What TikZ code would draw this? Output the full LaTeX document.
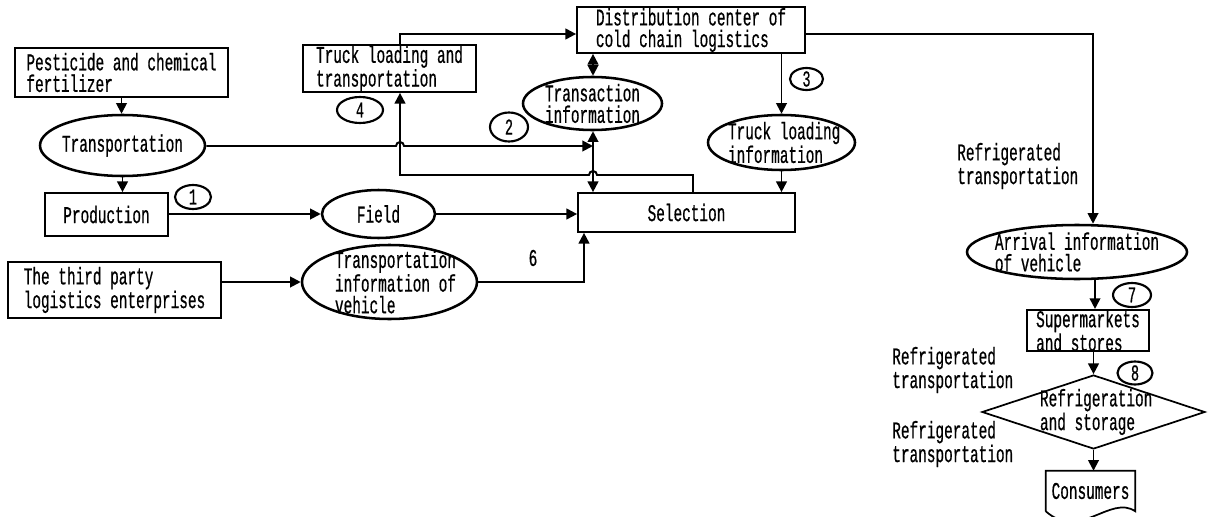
\documentclass[tikz,border=0pt]{standalone}
\usepackage{fontspec}
\setmainfont{Liberation Mono}[FakeStretch=0.6,FakeBold=0.6]
\usetikzlibrary{arrows.meta,shapes.geometric}
\tikzset{
  box/.style={draw, line width=1.3pt, rectangle, inner sep=0pt, align=left},
  oval/.style={draw, line width=1.9pt, ellipse, inner sep=0pt},
  num/.style={draw, line width=1.6pt, ellipse, inner sep=0pt, font=\fontsize{17}{17}\selectfont},
  txt/.style={inner sep=0pt, align=left},
  arr/.style={line width=1.45pt, -{Triangle[length=8pt,width=8pt]}},
  arrs/.style={line width=1.45pt, {Triangle[length=8pt,width=8pt]}-{Triangle[length=8pt,width=8pt]}},
}
\begin{document}
\begin{tikzpicture}[x=0.75pt,y=0.75pt,yscale=-1,xscale=1,font=\fontsize{18}{16.2}\selectfont]
\useasboundingbox (0,0) rectangle (1209,517);
\clip (0,0) rectangle (1209,517);
%Shape: Rectangle [id:pest]
\node[box, minimum width=159.75pt, minimum height=36.75pt] (pest) at (121.5,72.5) {Pesticide and chemical\\fertilizer};
%Shape: Ellipse [id:trans]
\node[oval, minimum width=123.75pt, minimum height=45.75pt, label={center:Transportation}] (trans) at (122.5,145.5) {};
%Shape: Rectangle [id:prod]
\node[box, minimum width=92.25pt, minimum height=32.25pt] (prod) at (106.5,214.5) {Production};
%Shape: Ellipse [id:field]
\node[oval, minimum width=84.75pt, minimum height=36pt, label={center:Field}] (field) at (378.5,214) {};
%Shape: Rectangle [id:third]
\node[box, minimum width=159.75pt, minimum height=42pt] (third) at (114.5,290) {The third party\\logistics enterprises};
%Shape: Ellipse [id:tinfo]
\node[oval, minimum width=131.25pt, minimum height=55.5pt, label={[align=left,xshift=4.5pt]center:{Transportation\\information of\\vehicle}}] (tinfo) at (389.5,282) {};
%Shape: Rectangle [id:truck]
\node[box, minimum width=129.75pt, minimum height=35.25pt] (truck) at (389.5,68.5) {Truck loading and\\transportation};
%Shape: Rectangle [id:dist]
\node[box, minimum width=171pt, minimum height=34.5pt] (dist) at (691,30) {Distribution center of\\cold chain logistics};
%Shape: Ellipse [id:tract]
\node[oval, minimum width=104.25pt, minimum height=39.75pt, label={[align=left]center:{Transaction\\information}}] (tract) at (592.5,103.5) {};
%Shape: Ellipse [id:tkinfo]
\node[oval, minimum width=110.25pt, minimum height=41.25pt, label={[align=left,xshift=2pt]center:{Truck loading\\information}}] (tkinfo) at (781.5,142.5) {};
%Shape: Rectangle [id:sel]
\node[box, minimum width=162.75pt, minimum height=29.25pt] (sel) at (686.5,212.5) {Selection};
%Shape: Ellipse [id:arriv]
\node[oval, minimum width=165pt, minimum height=40.5pt, label={[align=left]center:{Arrival information\\of vehicle}}] (arriv) at (1077,252) {};
%Shape: Rectangle [id:super]
\node[box, minimum width=91.5pt, minimum height=30.75pt] (super) at (1088,330.5) {Supermarkets\\and stores};
%Shape: Diamond [id:diam]
\node[draw, diamond, line width=1.3pt, inner sep=0pt, minimum width=167.25pt, minimum height=55.5pt, label={[align=left,xshift=2pt]center:{Refrigeration\\and storage}}] (diam) at (1093.5,412) {};
%Shape: Document [id:cons]
\node[inner sep=0pt, minimum width=66.75pt, minimum height=30pt] (cons) at (1090.5,491) {Consumers};
\draw[line width=1.3pt] (cons.south west) -- (cons.north west) -- (cons.north east) -- (cons.south east) .. controls +(-25,-17) and +(34,30) .. (cons.south west);

%Shape: Circle [id:numbers]
\node[num, minimum width=27pt, minimum height=18pt] (c1) at (193,197) {1};
\node[num, minimum width=28.5pt, minimum height=21.75pt] (c2) at (509,127) {2};
\node[num, minimum width=24.75pt, minimum height=16.5pt] (c3) at (806.5,79) {3};
\node[num, minimum width=34.5pt, minimum height=19.5pt] (c4) at (360,110) {4};
\node[num, minimum width=28.5pt, minimum height=18pt] (c7) at (1132,295) {7};
\node[num, minimum width=26.25pt, minimum height=17.25pt] (c8) at (1135,373) {8};

% Text Node
\node[txt] (six) at (533,258) {6};
% Text Node
\node[txt, anchor=west] (refr1) at (957,166) {Refrigerated\\transportation};
% Text Node
\node[txt, anchor=west] (refr2) at (892,370) {Refrigerated\\transportation};
% Text Node
\node[txt, anchor=west] (refr3) at (892,444) {Refrigerated\\transportation};

% bend points
\coordinate (jx) at (400,175);
\coordinate (vx) at (593,146);
\coordinate (tt) at (400,34);
\coordinate (rt) at (1093,34);
\coordinate (sx) at (693,175);
\coordinate (sb) at (584,283);
\coordinate (qx) at (1095,300);

%Straight Lines
\draw[arr] (pest.south) -- (pest.south |- trans.north);
\draw[arr] (trans.south) -- (trans.south |- prod.north);
\draw[arr] (prod.east |- field.west) -- (field.west);
\draw[arr] (field.east) -- (field.east -| sel.west);
\draw[arr] (third.east |- tinfo.west) -- (tinfo.west);
\draw[arr] (tinfo.east) -| (sb |- sel.south);
\draw[arr] (truck.north -| tt) -- (tt) -- (tt -| dist.west);
\draw[arrs] (dist.south -| vx) -- (tract.north -| vx);
\draw[arrs] (tract.south -| vx) -- (sel.north -| vx);
\draw[arr] (trans.east |- vx) -- (396,146) arc[start angle=180,end angle=360,radius=4] -- (vx);
\draw[arr] (sel.north -| sx) -- (sx) -- (597,175) arc[start angle=0,end angle=-180,radius=4] -- (jx) -- (jx |- truck.south);
\draw[arr] (dist.south -| tkinfo.north) -- (tkinfo.north);
\draw[arr] (tkinfo.south) -- (tkinfo.south |- sel.north);
\draw[arr] (dist.east |- rt) -- (rt) -- (rt |- arriv.north);
\draw[arr] (arriv.south -| qx) -- (super.north -| qx);
\draw[arr] (super.south -| diam.north) -- (diam.north);
\draw[arr] (diam.south) -- (diam.south |- cons.north);
\end{tikzpicture}
\end{document}
